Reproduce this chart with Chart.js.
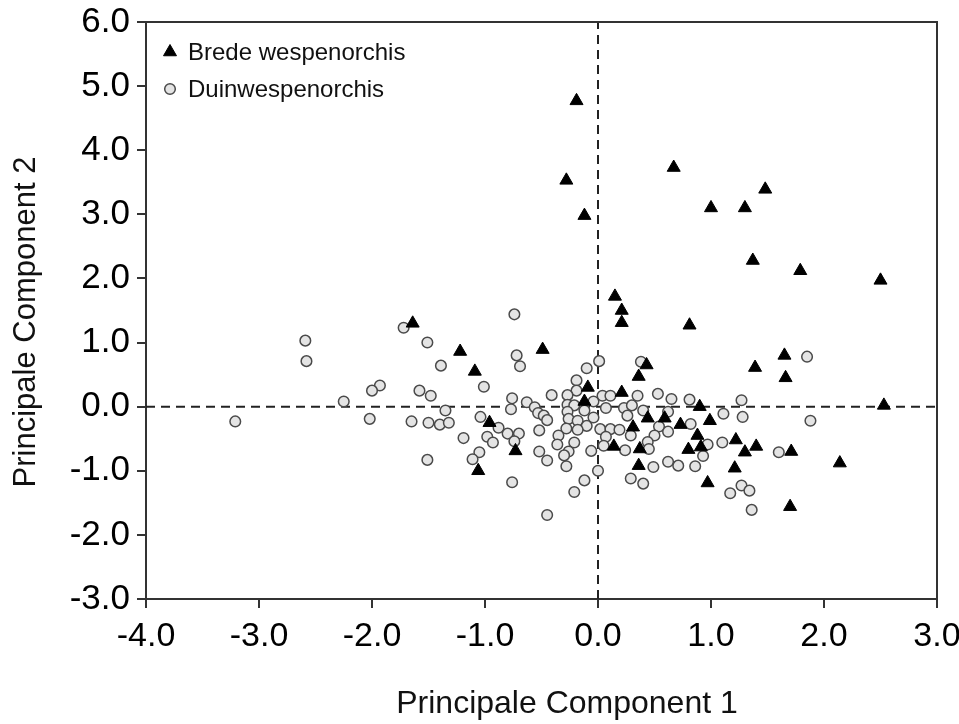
<!DOCTYPE html>
<html>
<head>
<meta charset="utf-8">
<title>PCA wespenorchis</title>
<script src="https://cdn.jsdelivr.net/npm/chart.js@4.4.1/dist/chart.umd.min.js"></script>
<style>
    html, body { margin: 0; padding: 0; background: #fff; }
    #wrap { width: 959px; height: 724px; }
</style>
</head>
<body>
<div id="wrap"><canvas id="pcaChart" width="959" height="724"></canvas></div>
<script>
// --- Datos ---
const seriesNames = ['Brede wespenorchis', 'Duinwespenorchis'];

const bredeX = [-0.19, -0.28, -0.12, 0.67, 1.00, 1.30, 1.48, 1.37, 1.79, 2.50,
    0.15, 0.21, 0.21, 0.81, 1.39, 0.43, 0.36, 0.21, 0.90, 0.99,
    0.44, 0.59, 0.73, 0.31, 0.88, 1.22, 0.14, 0.37, 0.80, 0.91,
    1.30, 1.40, 0.36, 1.21, 0.97, 1.65, 1.66, 2.53, 1.71, 2.14,
    1.70, -1.22, -1.09, -0.49, -0.09, -0.12, -0.96, -0.73, -1.06, -1.64];
const bredeY = [4.77, 3.53, 2.98, 3.73, 3.10, 3.10, 3.39, 2.28, 2.12, 1.97,
    1.72, 1.50, 1.31, 1.27, 0.61, 0.65, 0.47, 0.22, 0.00, -0.22,
    -0.18, -0.18, -0.28, -0.32, -0.45, -0.52, -0.62, -0.66, -0.67, -0.63,
    -0.71, -0.62, -0.92, -0.96, -1.19, 0.80, 0.45, 0.02, -0.70, -0.88,
    -1.56, 0.86, 0.55, 0.89, 0.30, 0.08, -0.25, -0.69, -1.00, 1.30];

const duinX = [-1.72, -2.59, -2.58, -1.51, -1.39, -1.93, -2.00, -1.58, -1.48, -2.25,
    -1.35, -3.21, -2.02, -1.65, -1.50, -1.40, -1.32, -1.51,
    -0.74, -0.72, -0.69, -1.01, -0.76, -0.77, -0.63, -0.56, -0.53, -0.48,
    -0.45, -0.41, -1.04, -0.88, -0.80, -0.70, -0.74, -0.98, -0.93, -1.19,
    -0.52, -1.05, -1.11, -0.52, -0.45, -0.76, -0.45,
    0.01, -0.10, -0.19, -0.19, -0.27, -0.27, -0.21, -0.27, -0.26, -0.12,
    -0.18, -0.04, -0.04, -0.10, -0.18, -0.28, -0.35, -0.36, -0.21, -0.26,
    -0.30, -0.28, -0.06, 0.04, 0.11, 0.07, 0.02, 0.11, 0.07, 0.05,
    0.00, -0.12, -0.21,
    0.38, 0.23, 0.30, 0.35, 0.40, 0.53, 0.65, 0.81, 1.27, 0.62,
    0.26, 1.11, 1.28, 0.82, 0.54, 0.62, 0.50, 0.19, 0.29, 0.44,
    0.45, 0.24, 0.97, 1.10, 0.93, 0.62, 0.71, 0.86, 0.49, 0.29,
    0.40, 1.27, 1.17, 1.34, 1.36, 1.60, 1.85, 1.88];
const duinY = [1.23, 1.03, 0.71, 1.00, 0.64, 0.33, 0.25, 0.25, 0.17, 0.08,
    -0.06, -0.23, -0.19, -0.23, -0.25, -0.28, -0.25, -0.83,
    1.44, 0.80, 0.63, 0.31, 0.13, -0.04, 0.07, -0.01, -0.10, -0.14,
    -0.21, 0.18, -0.16, -0.33, -0.42, -0.42, -0.54, -0.47, -0.56, -0.49,
    -0.37, -0.71, -0.82, -0.70, -0.84, -1.18, -1.69,
    0.71, 0.60, 0.41, 0.25, 0.18, 0.03, 0.02, -0.08, -0.19, -0.06,
    -0.22, 0.08, -0.17, -0.30, -0.36, -0.34, -0.45, -0.59, -0.56, -0.70,
    -0.76, -0.93, -0.69, 0.17, 0.17, -0.02, -0.35, -0.35, -0.47, -0.61,
    -1.00, -1.15, -1.33,
    0.70, -0.02, 0.02, 0.17, -0.06, 0.20, 0.12, 0.11, 0.10, -0.08,
    -0.14, -0.11, -0.16, -0.27, -0.31, -0.39, -0.45, -0.36, -0.45, -0.55,
    -0.66, -0.68, -0.59, -0.56, -0.77, -0.86, -0.92, -0.93, -0.94, -1.12,
    -1.20, -1.23, -1.35, -1.31, -1.61, -0.71, 0.78, -0.22];

const xTicks = [-4, -3, -2, -1, 0, 1, 2, 3];
const yTicks = [-3, -2, -1, 0, 1, 2, 3, 4, 5, 6];
const xTitle = 'Principale Component 1';
const yTitle = 'Principale Component 2';

const FONT = "'Liberation Sans', Arial, Helvetica, sans-serif";
const AXIS_COLOR = '#333';

function toPoints(xs, ys) {
    return xs.map((x, i) => ({ x: x, y: ys[i] }));
}

// --- Marco superior y derecho ---
const framePlugin = {
    id: 'frame',
    afterDatasetsDraw(chart) {
        const a = chart.chartArea;
        const ctx = chart.ctx;
        ctx.save();
        ctx.strokeStyle = AXIS_COLOR;
        ctx.lineWidth = 2;
        ctx.beginPath();
        ctx.moveTo(a.left, a.top);
        ctx.lineTo(a.right, a.top);
        ctx.lineTo(a.right, a.bottom);
        ctx.stroke();
        ctx.restore();
    }
};

// --- Títulos de los ejes (posición como en la figura original) ---
const axisTitles = {
    id: 'axisTitles',
    afterDraw(chart) {
        const ctx = chart.ctx;
        ctx.save();
        ctx.fillStyle = '#111';
        ctx.textAlign = 'center';
        ctx.textBaseline = 'alphabetic';
        ctx.font = '32px ' + FONT;
        ctx.fillText(xTitle, 567, 713);
        ctx.translate(35, 322);
        ctx.rotate(-Math.PI / 2);
        ctx.font = '31px ' + FONT;
        ctx.fillText(yTitle, 0, 0);
        ctx.restore();
    }
};

// --- Leyenda dentro del área del gráfico ---
const insideLegend = {
    id: 'insideLegend',
    afterDraw(chart) {
        const ctx = chart.ctx;
        const a = chart.chartArea;
        const items = [chart.data.datasets[2], chart.data.datasets[3]];
        ctx.save();
        ctx.font = '24px ' + FONT;
        ctx.textBaseline = 'middle';
        items.forEach((ds, i) => {
            const cx = a.left + 24;
            const cy = a.top + 30 + i * 37;
            ctx.fillStyle = ds.backgroundColor;
            ctx.strokeStyle = ds.borderColor;
            ctx.lineWidth = ds.borderWidth;
            Chart.helpers.drawPoint(ctx, { pointStyle: ds.pointStyle, radius: ds.pointRadius, borderWidth: ds.borderWidth }, cx, cy);
            ctx.fillStyle = '#111';
            ctx.fillText(seriesNames[i], cx + 18, cy + 1);
        });
        ctx.restore();
    }
};

function axisCfg(min, max, ticksArr, isX) {
    return {
        type: 'linear',
        min: min,
        max: max,
        afterBuildTicks: scale => { scale.ticks = ticksArr.map(v => ({ value: v })); },
        afterFit: scale => {
            if (isX) {
                scale.height = 125;
                scale.paddingLeft = 0;
                scale.paddingRight = 0;
            } else {
                scale.width = 146;
                scale.paddingTop = 0;
                scale.paddingBottom = 0;
            }
        },
        ticks: {
            color: '#000',
            font: { family: FONT, size: isX ? 34 : 35 },
            padding: isX ? 8 : 7,
            callback: v => v.toFixed(1)
        },
        grid: {
            display: true,
            drawOnChartArea: false,
            drawTicks: true,
            tickLength: 9,
            color: AXIS_COLOR,
            lineWidth: 2
        },
        border: { display: true, color: AXIS_COLOR, width: 2 },
        title: { display: false }
    };
}

const chart = new Chart(document.getElementById('pcaChart').getContext('2d'), {
    type: 'scatter',
    data: {
        datasets: [
            {
                label: 'x0',
                data: [{ x: -4, y: 0 }, { x: 3, y: 0 }],
                showLine: true,
                borderColor: '#222',
                borderWidth: 2,
                borderDash: [9, 6],
                pointRadius: 0,
                order: 4
            },
            {
                label: 'y0',
                data: [{ x: 0, y: -3 }, { x: 0, y: 6 }],
                showLine: true,
                borderColor: '#222',
                borderWidth: 2,
                borderDash: [9, 6],
                pointRadius: 0,
                order: 4
            },
            {
                label: seriesNames[0],
                data: toPoints(bredeX, bredeY),
                pointStyle: 'triangle',
                pointRadius: 7.5,
                pointHoverRadius: 7.5,
                backgroundColor: '#000',
                borderColor: '#000',
                borderWidth: 1,
                order: 1
            },
            {
                label: seriesNames[1],
                data: toPoints(duinX, duinY),
                pointStyle: 'circle',
                pointRadius: 5.3,
                pointHoverRadius: 5.3,
                backgroundColor: '#e4e4e4',
                borderColor: '#4a4a4a',
                borderWidth: 1.5,
                order: 2
            }
        ]
    },
    options: {
        responsive: false,
        animation: false,
        layout: { padding: { top: 22, right: 22, left: 0, bottom: 0 } },
        plugins: { legend: { display: false }, tooltip: { enabled: false } },
        scales: {
            x: axisCfg(-4, 3, xTicks, true),
            y: axisCfg(-3, 6, yTicks, false)
        }
    },
    plugins: [framePlugin, axisTitles, insideLegend]
});
</script>
</body>
</html>
